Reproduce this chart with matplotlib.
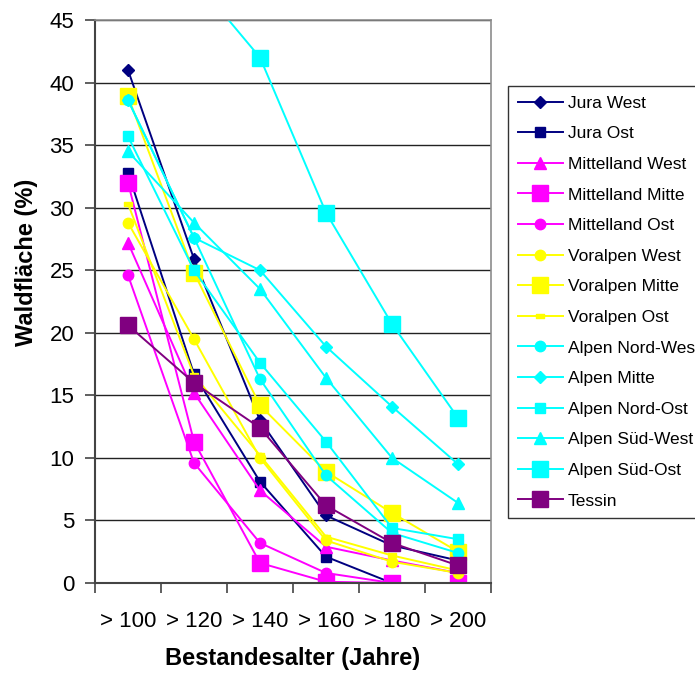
import numpy as np
import matplotlib
matplotlib.use('Agg')
import matplotlib.pyplot as plt
from matplotlib.path import Path as MPath

plt.rcParams['font.family'] = ['Liberation Sans', 'DejaVu Sans']

# Altersklassen
categories = ['> 100', '> 120', '> 140', '> 160', '> 180', '> 200']

# Waldfläche (%) pro Region
jura_west = [41.0, 25.9, 13.0, 5.4, 3.0, 1.8]
jura_ost = [32.8, 16.7, 8.1, 2.1, 0.0, 0.0]
mittelland_west = [27.2, 15.2, 7.4, 2.9, 1.8, 0.8]
mittelland_mitte = [32.0, 11.3, 1.6, 0.1, 0.0, 0.0]
mittelland_ost = [24.6, 9.6, 3.2, 0.8, 0.0, 0.0]
voralpen_west = [28.8, 19.5, 10.0, 3.4, 1.7, 0.8]
voralpen_mitte = [38.9, 24.8, 14.2, 8.9, 5.6, 2.5]
voralpen_ost = [30.3, 16.6, 10.2, 3.7, 2.2, 1.0]
alpen_nord_west = [38.6, 27.6, 16.3, 8.6, 4.0, 2.4]
alpen_mitte = [38.6, 27.6, 25.0, 18.9, 14.1, 9.5]
alpen_nord_ost = [35.7, 25.0, 17.6, 11.3, 4.4, 3.5]
alpen_sued_west = [34.5, 28.8, 23.5, 16.4, 10.0, 6.4]
alpen_sued_ost = [55.0, 48.3, 42.0, 29.6, 20.7, 13.2]
tessin = [20.6, 16.0, 12.4, 6.2, 3.2, 1.4]

# kleines liegendes Rechteck fuer Voralpen Ost
rect_marker = MPath([(-1, -0.45), (1, -0.45), (1, 0.45), (-1, 0.45), (-1, -0.45)],
                    [MPath.MOVETO, MPath.LINETO, MPath.LINETO, MPath.LINETO, MPath.CLOSEPOLY])

navy, mag, yel, cyan, purp = '#000080', '#FF00FF', '#FFFF00', '#00FFFF', '#800080'

series = [
    ('Jura West', jura_west, navy, 'D', 6.5),
    ('Jura Ost', jura_ost, navy, 's', 7),
    ('Mittelland West', mittelland_west, mag, '^', 8),
    ('Mittelland Mitte', mittelland_mitte, mag, 's', 11.5),
    ('Mittelland Ost', mittelland_ost, mag, 'o', 7.5),
    ('Voralpen West', voralpen_west, yel, 'o', 7.5),
    ('Voralpen Mitte', voralpen_mitte, yel, 's', 11.5),
    ('Voralpen Ost', voralpen_ost, yel, rect_marker, 6),
    ('Alpen Nord-West', alpen_nord_west, cyan, 'o', 7.5),
    ('Alpen Mitte', alpen_mitte, cyan, 'D', 6.5),
    ('Alpen Nord-Ost', alpen_nord_ost, cyan, 's', 7.5),
    ('Alpen Süd-West', alpen_sued_west, cyan, '^', 8),
    ('Alpen Süd-Ost', alpen_sued_ost, cyan, 's', 11.5),
    ('Tessin', tessin, purp, 's', 11.5),
]

fig = plt.figure(figsize=(6.95, 6.75), dpi=100)
ax = fig.add_axes([95 / 695, 1 - 583 / 675, 396 / 695, 563 / 675])

x = np.arange(len(categories))
for name, vals, col, mk, ms in series:
    ax.plot(x, vals, color=col, lw=1.4, marker=mk, markersize=ms,
            markerfacecolor=col, markeredgecolor=col, label=name)

ax.set_xlim(-0.5, len(categories) - 0.5)
ax.set_ylim(0, 45)
ax.set_yticks(np.arange(0, 46, 5))
ax.yaxis.grid(True, color='#222222', lw=1.0)
ax.set_axisbelow(True)

ax.set_xticks(x)
ax.set_xticklabels(categories)
ax.set_xticks(np.arange(-0.5, len(categories)), minor=True)
ax.tick_params(axis='x', which='major', length=0, pad=20, labelsize=16)
ax.tick_params(axis='x', which='minor', length=7, width=1.2, color='#444444')
ax.tick_params(axis='y', length=7, width=1.2, color='#444444', labelsize=16, pad=8)

for side in ['top', 'right']:
    ax.spines[side].set_color('#8c8c8c')
    ax.spines[side].set_linewidth(1.2)
for side in ['left', 'bottom']:
    ax.spines[side].set_color('#444444')
    ax.spines[side].set_linewidth(1.5)

ax.set_xlabel('Bestandesalter (Jahre)', fontsize=17, fontweight='bold', labelpad=11)
ax.set_ylabel('Waldfläche (%)', fontsize=17, fontweight='bold')
ax.yaxis.set_label_coords(-0.143, 0.57)

# Legende ragt wie im Original rechts ueber den Rand hinaus
leg = fig.legend(loc='upper left', bbox_to_anchor=(508 / 695, 1 - 86 / 675),
                 fontsize=12.5, frameon=True, fancybox=False, edgecolor='black',
                 handlelength=2.6, handletextpad=0.3, labelspacing=0.89,
                 borderpad=0.55, borderaxespad=0)
leg.get_frame().set_linewidth(1.0)

fig.savefig('out.png', dpi=100)
